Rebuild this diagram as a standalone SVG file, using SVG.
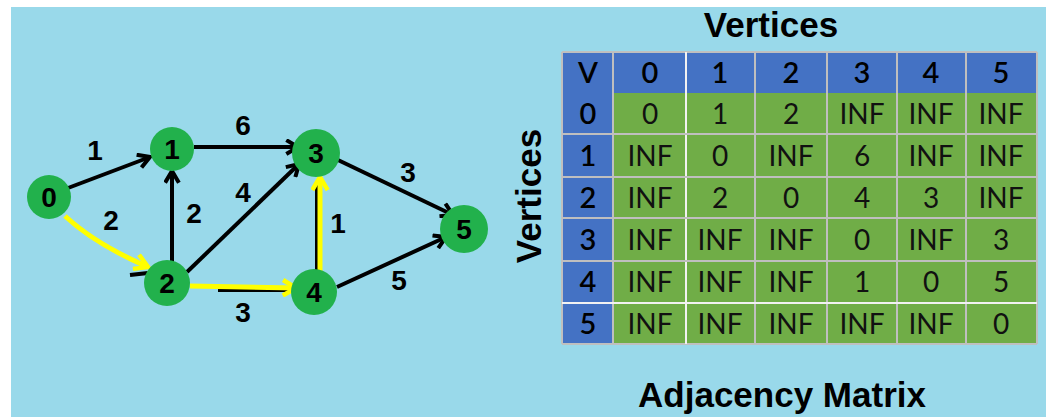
<svg xmlns="http://www.w3.org/2000/svg" width="1046" height="417" viewBox="0 0 1046 417">
<style>
.bg{fill:#99d9ea}
.node{fill:#22b14c}
.nl{font-family:"Liberation Sans",Arial,sans-serif;font-weight:bold;font-size:28px;fill:#000;text-anchor:middle}
.el{font-family:"Liberation Sans",Arial,sans-serif;font-weight:bold;font-size:28px;fill:#000;text-anchor:middle}
.blk{stroke:#000;stroke-width:4;fill:none}
.yel{stroke:#ffff00;stroke-width:5;fill:none}
.title{font-family:"Liberation Sans",Arial,sans-serif;font-weight:bold;font-size:35px;fill:#000;text-anchor:middle}
.hc{fill:#4472c4}
.dc{fill:#70ad47}
.ht{font-family:Lato,"Liberation Sans",sans-serif;font-weight:600;font-size:29px;fill:#000;text-anchor:middle}
.ct{font-family:Lato,"Liberation Sans",sans-serif;font-weight:400;font-size:28px;fill:#111;text-anchor:middle}
.gl{stroke:#bfbfbf;stroke-width:2}
.wl{stroke:#f2f2f2;stroke-width:2}
</style>
<defs>
<marker id="ab" viewBox="0 0 16 16" refX="13" refY="8" markerWidth="17" markerHeight="17" markerUnits="userSpaceOnUse" orient="auto">
<path d="M2,1.5 L13,8 L2,14.5" fill="none" stroke="#000" stroke-width="3.8"/>
</marker>
<marker id="ay" viewBox="0 0 16 16" refX="13" refY="8" markerWidth="19" markerHeight="19" markerUnits="userSpaceOnUse" orient="auto">
<path d="M2,1.5 L13,8 L2,14.5" fill="none" stroke="#ffff00" stroke-width="3.8"/>
</marker>
</defs>
<rect class="bg" x="11" y="7" width="1035" height="410"/>

<g id="connectors">
<line class="blk" x1="68" y1="188" x2="150" y2="157" marker-end="url(#ab)"/>
<line class="blk" x1="194" y1="147" x2="298" y2="147" marker-end="url(#ab)"/>
<line class="blk" x1="172" y1="264" x2="172" y2="171" marker-end="url(#ab)"/>
<line class="blk" x1="187" y1="272" x2="299" y2="164" marker-end="url(#ab)"/>
<line class="blk" x1="338" y1="160" x2="453" y2="215" marker-end="url(#ab)"/>
<line class="blk" x1="337" y1="287" x2="446" y2="237" marker-end="url(#ab)"/>
<line class="blk" x1="130" y1="275" x2="148" y2="273"/>
<path class="yel" d="M65,216 Q95,244 148,267" marker-end="url(#ay)"/>
<line class="blk" x1="218" y1="290" x2="296" y2="290"/>
<line class="yel" x1="190" y1="286" x2="296" y2="288" marker-end="url(#ay)"/>
<line class="blk" x1="317" y1="272" x2="317" y2="184"/>
<line class="yel" x1="320" y1="272" x2="320" y2="177" marker-end="url(#ay)"/>
</g>

<g id="edge-labels">
<text class="el" x="95" y="160">1</text>
<text class="el" x="111" y="230">2</text>
<text class="el" x="243" y="135">6</text>
<text class="el" x="194" y="223">2</text>
<text class="el" x="243" y="202">4</text>
<text class="el" x="243" y="322">3</text>
<text class="el" x="338" y="233">1</text>
<text class="el" x="408" y="182">3</text>
<text class="el" x="399" y="290">5</text>
</g>

<g id="node0"><circle class="node" cx="49" cy="197" r="22"/><text class="nl" x="49" y="207">0</text></g>
<g id="node1"><circle class="node" cx="172" cy="149" r="22"/><text class="nl" x="172" y="159">1</text></g>
<g id="node2"><circle class="node" cx="167" cy="283" r="23"/><text class="nl" x="167" y="293">2</text></g>
<g id="node3"><circle class="node" cx="316" cy="153" r="24"/><text class="nl" x="316" y="163">3</text></g>
<g id="node4"><circle class="node" cx="314" cy="292" r="23"/><text class="nl" x="314" y="302">4</text></g>
<g id="node5"><circle class="node" cx="464" cy="229" r="24"/><text class="nl" x="464" y="239">5</text></g>

<g id="matrix">
<text class="title" x="771" y="37">Vertices</text>
<text class="title" x="782" y="407">Adjacency Matrix</text>
<text class="title" transform="translate(541,196) rotate(-90)" x="0" y="0">Vertices</text>
<rect class="hc" x="562" y="52" width="475" height="41"/>
<rect class="hc" x="562" y="93" width="51" height="251"/>
<rect class="dc" x="613" y="93" width="424" height="251"/>
<g>
<line class="gl" x1="562" y1="52" x2="1037" y2="52"/>
<line class="gl" x1="562" y1="344" x2="1037" y2="344"/>
<line class="gl" x1="562" y1="52" x2="562" y2="344"/>
<line class="gl" x1="1037" y1="52" x2="1037" y2="344"/>
<line class="gl" x1="613" y1="52" x2="613" y2="344"/>
<line class="wl" x1="686" y1="52" x2="686" y2="344"/>
<line class="gl" x1="755" y1="52" x2="755" y2="344"/>
<line class="gl" x1="827" y1="52" x2="827" y2="344"/>
<line class="gl" x1="897" y1="52" x2="897" y2="344"/>
<line class="gl" x1="966" y1="52" x2="966" y2="344"/>
<line class="gl" x1="562" y1="134" x2="1037" y2="134"/>
<line class="gl" x1="562" y1="177" x2="1037" y2="177"/>
<line class="gl" x1="562" y1="218" x2="1037" y2="218"/>
<line class="gl" x1="562" y1="261" x2="1037" y2="261"/>
<line class="wl" x1="562" y1="303" x2="1037" y2="303"/>
</g>
<g class="ht">
<text x="588" y="83" class="ht">V</text>
<text x="650" y="83" class="ht">0</text>
<text x="720" y="83" class="ht">1</text>
<text x="791" y="83" class="ht">2</text>
<text x="862" y="83" class="ht">3</text>
<text x="931" y="83" class="ht">4</text>
<text x="1001" y="83" class="ht">5</text>
<text x="588" y="124" class="ht">0</text>
<text x="588" y="166" class="ht">1</text>
<text x="588" y="208" class="ht">2</text>
<text x="588" y="250" class="ht">3</text>
<text x="588" y="292" class="ht">4</text>
<text x="588" y="334" class="ht">5</text>
</g>
<g class="ct">
<text class="ct" x="650" y="124">0</text><text class="ct" x="720" y="124">1</text><text class="ct" x="791" y="124">2</text><text class="ct" x="862" y="124">INF</text><text class="ct" x="931" y="124">INF</text><text class="ct" x="1001" y="124">INF</text>
<text class="ct" x="650" y="166">INF</text><text class="ct" x="720" y="166">0</text><text class="ct" x="791" y="166">INF</text><text class="ct" x="862" y="166">6</text><text class="ct" x="931" y="166">INF</text><text class="ct" x="1001" y="166">INF</text>
<text class="ct" x="650" y="208">INF</text><text class="ct" x="720" y="208">2</text><text class="ct" x="791" y="208">0</text><text class="ct" x="862" y="208">4</text><text class="ct" x="931" y="208">3</text><text class="ct" x="1001" y="208">INF</text>
<text class="ct" x="650" y="250">INF</text><text class="ct" x="720" y="250">INF</text><text class="ct" x="791" y="250">INF</text><text class="ct" x="862" y="250">0</text><text class="ct" x="931" y="250">INF</text><text class="ct" x="1001" y="250">3</text>
<text class="ct" x="650" y="292">INF</text><text class="ct" x="720" y="292">INF</text><text class="ct" x="791" y="292">INF</text><text class="ct" x="862" y="292">1</text><text class="ct" x="931" y="292">0</text><text class="ct" x="1001" y="292">5</text>
<text class="ct" x="650" y="334">INF</text><text class="ct" x="720" y="334">INF</text><text class="ct" x="791" y="334">INF</text><text class="ct" x="862" y="334">INF</text><text class="ct" x="931" y="334">INF</text><text class="ct" x="1001" y="334">0</text>
</g>
</g>
</svg>
